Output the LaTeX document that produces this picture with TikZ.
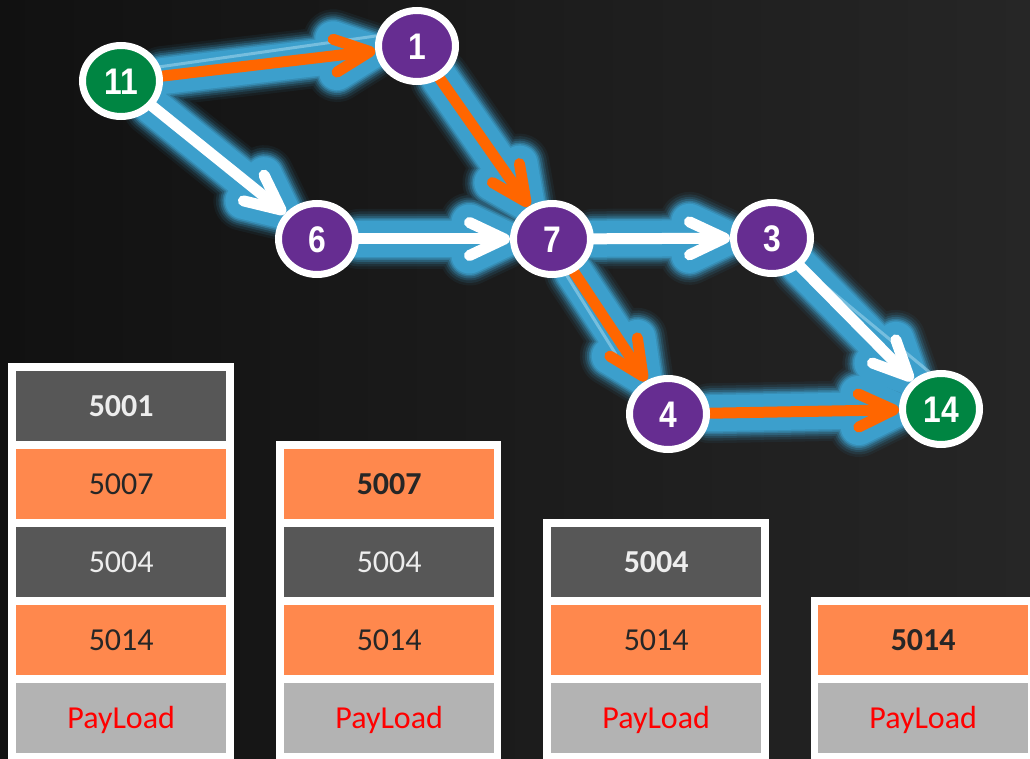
\documentclass[tikz,border=0pt]{standalone}
\usepackage{fontspec}
\usetikzlibrary{arrows.meta,shapes.geometric}
\newfontfamily\cellfont{Carlito}
\newfontfamily\hopfont{Liberation Sans}[FakeStretch=0.86]

\definecolor{bgleft}{HTML}{111111}
\definecolor{bgright}{HTML}{262626}
\definecolor{hoppurple}{HTML}{662D91}
\definecolor{hopgreen}{HTML}{008542}
\definecolor{routeorange}{HTML}{FF6600}
\definecolor{glowblue}{HTML}{3C9FCC}
\definecolor{streakblue}{HTML}{A6D8EE}
\definecolor{celldark}{HTML}{575757}
\definecolor{cellorange}{HTML}{FF884D}
\definecolor{cellgray}{HTML}{B3B3B3}
\definecolor{textlight}{HTML}{EDEDED}
\definecolor{textdark}{HTML}{262626}
\definecolor{payred}{HTML}{FF0000}

\pgfdeclarelayer{bglayer}
\pgfdeclarelayer{glowlayer}
\pgfdeclarelayer{edgelayer}
\pgfsetlayers{bglayer,glowlayer,edgelayer,main}

\tikzset{
  hopbarb/.tip={Straight Barb[length=35pt,width=33pt,round]},
  hop/.style={ellipse, minimum width=77pt, minimum height=71pt, inner sep=0pt,
    fill=hoppurple, draw=white, line width=7pt, text=white,
    font=\hopfont\bfseries\fontsize{37}{37}\selectfont,
    text height=26.5pt, text depth=0pt},
  route/.style={line width=11pt, line cap=round, -hopbarb},
  streak/.style={line width=3pt, draw=streakblue, opacity=0.55, line cap=round},
  cell/.style={minimum width=210pt, minimum height=70pt, inner sep=0pt,
    anchor=north west, font=\cellfont\fontsize{32}{32}\selectfont,
    text height=20.5pt, text depth=0pt},
  boldcell/.style={font=\cellfont\bfseries\fontsize{32}{32}\selectfont},
  darkcell/.style={cell, fill=celldark, text=textlight},
  orangecell/.style={cell, fill=cellorange, text=textdark},
  paycell/.style={cell, fill=cellgray, text=payred},
  frame/.style={fill=white, draw=none},
}

% every link of the graph, drawn with the style "linkstroke" in force
\newcommand\drawhoplinks[2]{%
  \draw[linkstroke,#2] (n11) -- (n1);
  \draw[linkstroke,#1] (n11) -- (n6);
  \draw[linkstroke,#2] (n1) -- (n7);
  \draw[linkstroke,#1] (n6) -- (n7);
  \draw[linkstroke,#1] (n7) -- (n3);
  \draw[linkstroke,#2] (n7) -- (n4);
  \draw[linkstroke,#1] (n3) -- (n14);
  \draw[linkstroke,#2] (n4) -- (n14);
}

\begin{document}
\begin{tikzpicture}[x=1pt,y=-1pt]
\useasboundingbox (0,0) rectangle (1030,759);

\begin{pgfonlayer}{bglayer}
  \shade[left color=bgleft, right color=bgright] (0,0) rectangle (1030,759);
\end{pgfonlayer}

% hops
\node[hop, fill=hopgreen] (n11) at (121,81) {11};
\node[hop] (n1) at (417,46) {1};
\node[hop] (n6) at (317,239) {6};
\node[hop] (n7) at (552,239) {7};
\node[hop] (n3) at (772,238) {3};
\node[hop] (n4) at (668,414) {4};
\node[hop, fill=hopgreen] (n14) at (941,409) {14};

% soft blue halo under the links
\begin{pgfonlayer}{glowlayer}
  \foreach \w/\o in {60/0.07, 55/0.12, 50/0.18, 46/0.27, 42/0.4, 39/0.6, 36/1} {
    \pgfmathsetmacro\back{-(\w-11)/2}
    \begin{scope}[transparency group, opacity=\o,
        linkstroke/.style={line width=\w pt, draw=glowblue, line cap=round,
          -hopbarb, shorten >=\back pt}]
      \drawhoplinks{}{}
    \end{scope}
  }
\end{pgfonlayer}

% links
\begin{pgfonlayer}{edgelayer}
  \draw[streak] (n11.20) -- (n1.166);
  \draw[streak, shorten >=40pt] (n7.292) -- (n4.140);
  \draw[streak] (n3.316) -- (n14.108);
  \begin{scope}[linkstroke/.style={route}]
    \drawhoplinks{draw=white}{draw=routeorange}
  \end{scope}
\end{pgfonlayer}

% label stacks
\fill[frame] (8,363) rectangle (234,770);
\node[darkcell, boldcell] (a1) at (16,371) {5001};
\node[orangecell] (a2) at (16,449) {5007};
\node[darkcell] (a3) at (16,527) {5004};
\node[orangecell] (a4) at (16,605) {5014};
\node[paycell] (a5) at (16,683) {PayLoad};

\fill[frame] (276,441) rectangle (501,770);
\node[orangecell, boldcell] (b2) at (284,449) {5007};
\node[darkcell] (b3) at (284,527) {5004};
\node[orangecell] (b4) at (284,605) {5014};
\node[paycell] (b5) at (284,683) {PayLoad};

\fill[frame] (543,519) rectangle (769,770);
\node[darkcell, boldcell] (c3) at (551,527) {5004};
\node[orangecell] (c4) at (551,605) {5014};
\node[paycell] (c5) at (551,683) {PayLoad};

\fill[frame] (811,597) rectangle (1040,770);
\node[orangecell, boldcell] (d4) at (818,605) {5014};
\node[paycell] (d5) at (818,683) {PayLoad};
\end{tikzpicture}
\end{document}
